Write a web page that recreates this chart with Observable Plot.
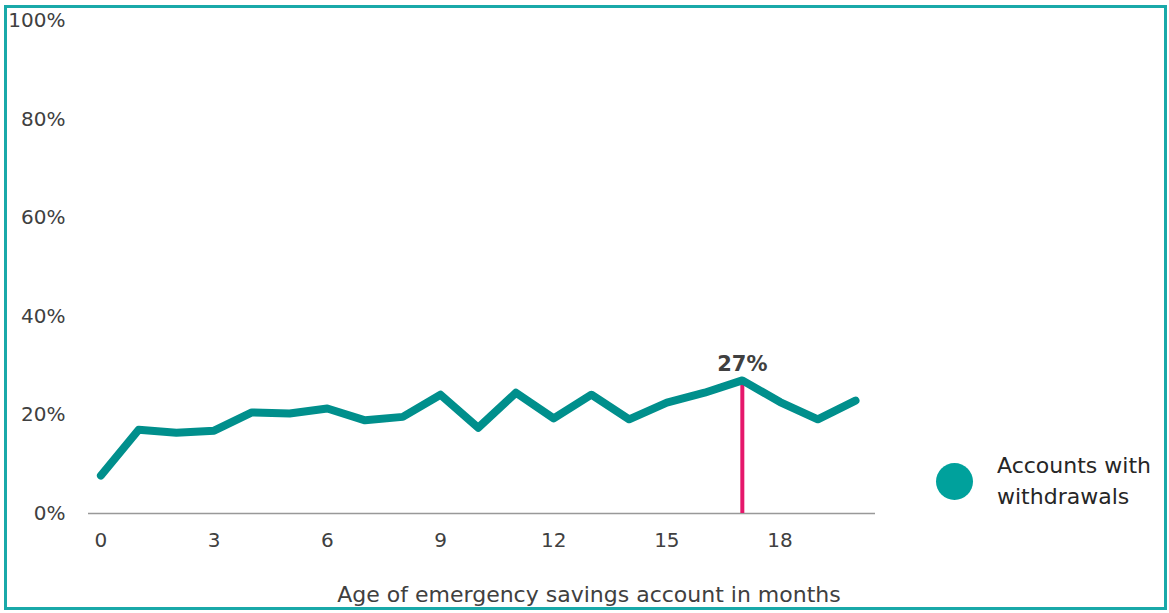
<!DOCTYPE html>
<html>
<head>
<meta charset="utf-8">
<script src="https://cdn.jsdelivr.net/npm/d3@7"></script>
<script src="https://cdn.jsdelivr.net/npm/@observablehq/plot@0.6"></script>
<style>
  html, body { margin: 0; padding: 0; background: #fff; }
  #wrap { position: relative; width: 1169px; height: 613px; overflow: hidden; font-family: "DejaVu Sans", sans-serif; }
  #frame { position: absolute; left: 4px; top: 5px; width: 1163px; height: 605px; box-sizing: border-box; border: 3px solid #19a9a9; pointer-events: none; }
  #legend { position: absolute; left: 936px; top: 450px; display: flex; align-items: center; color: #262626; font-size: 22px; line-height: 31px; }
  #legend .swatch { width: 37px; height: 37px; border-radius: 50%; background: #00a19c; margin-right: 24px; }
  #xlabel { position: absolute; left: 0; width: 1178px; top: 582px; text-align: center; color: #404040; font-size: 22px; }
</style>
</head>
<body>
<div id="wrap">
  <div id="chart"></div>
  <div id="legend"><div class="swatch"></div><div>Accounts with<br>withdrawals</div></div>
  <div id="xlabel">Age of emergency savings account in months</div>
  <div id="frame"></div>
</div>
<script>
// Share of emergency savings accounts with a withdrawal, by account age (months)
const months = [0, 1, 2, 3, 4, 5, 6, 7, 8, 9, 10, 11, 12, 13, 14, 15, 16, 17, 18, 19, 20];
const withdrawals = [7.7, 17.0, 16.4, 16.8, 20.5, 20.3, 21.3, 18.9, 19.6, 24.1, 17.4, 24.5, 19.3, 24.1, 19.1, 22.5, 24.5, 27, 22.6, 19.1, 22.9];
const xTicks = [0, 3, 6, 9, 12, 15, 18];
const yTicks = [0, 20, 40, 60, 80, 100];
const peakMonth = 17;
const peakValue = 27;

const data = months.map((m, i) => ({month: m, value: withdrawals[i]}));

const chart = Plot.plot({
  width: 1169,
  height: 613,
  marginLeft: 88,
  marginRight: 294,
  marginTop: 20,
  marginBottom: 100,
  style: {fontFamily: "'DejaVu Sans', sans-serif", fontSize: "20px", color: "#404040", background: "transparent"},
  x: {domain: [-0.33, 20.53], ticks: xTicks, tickSize: 0, tickPadding: 19, label: null},
  y: {domain: [0, 100], ticks: yTicks, tickSize: 0, tickPadding: 23, tickFormat: d => d + "%", label: null},
  marks: [
    Plot.ruleY([0], {stroke: "#999", strokeWidth: 1.5}),
    Plot.ruleX([peakMonth], {y1: 0, y2: peakValue, stroke: "#e5186b", strokeWidth: 4}),
    Plot.line(data, {x: "month", y: "value", stroke: "#008f8c", strokeWidth: 8, strokeLinejoin: "round", strokeLinecap: "round"}),
    Plot.text([{month: peakMonth, value: peakValue}], {x: "month", y: "value", text: d => d.value + "%", dy: -16, fontWeight: "bold", fontSize: 21, fill: "#404040"})
  ]
});
document.getElementById("chart").appendChild(chart);
</script>
</body>
</html>
